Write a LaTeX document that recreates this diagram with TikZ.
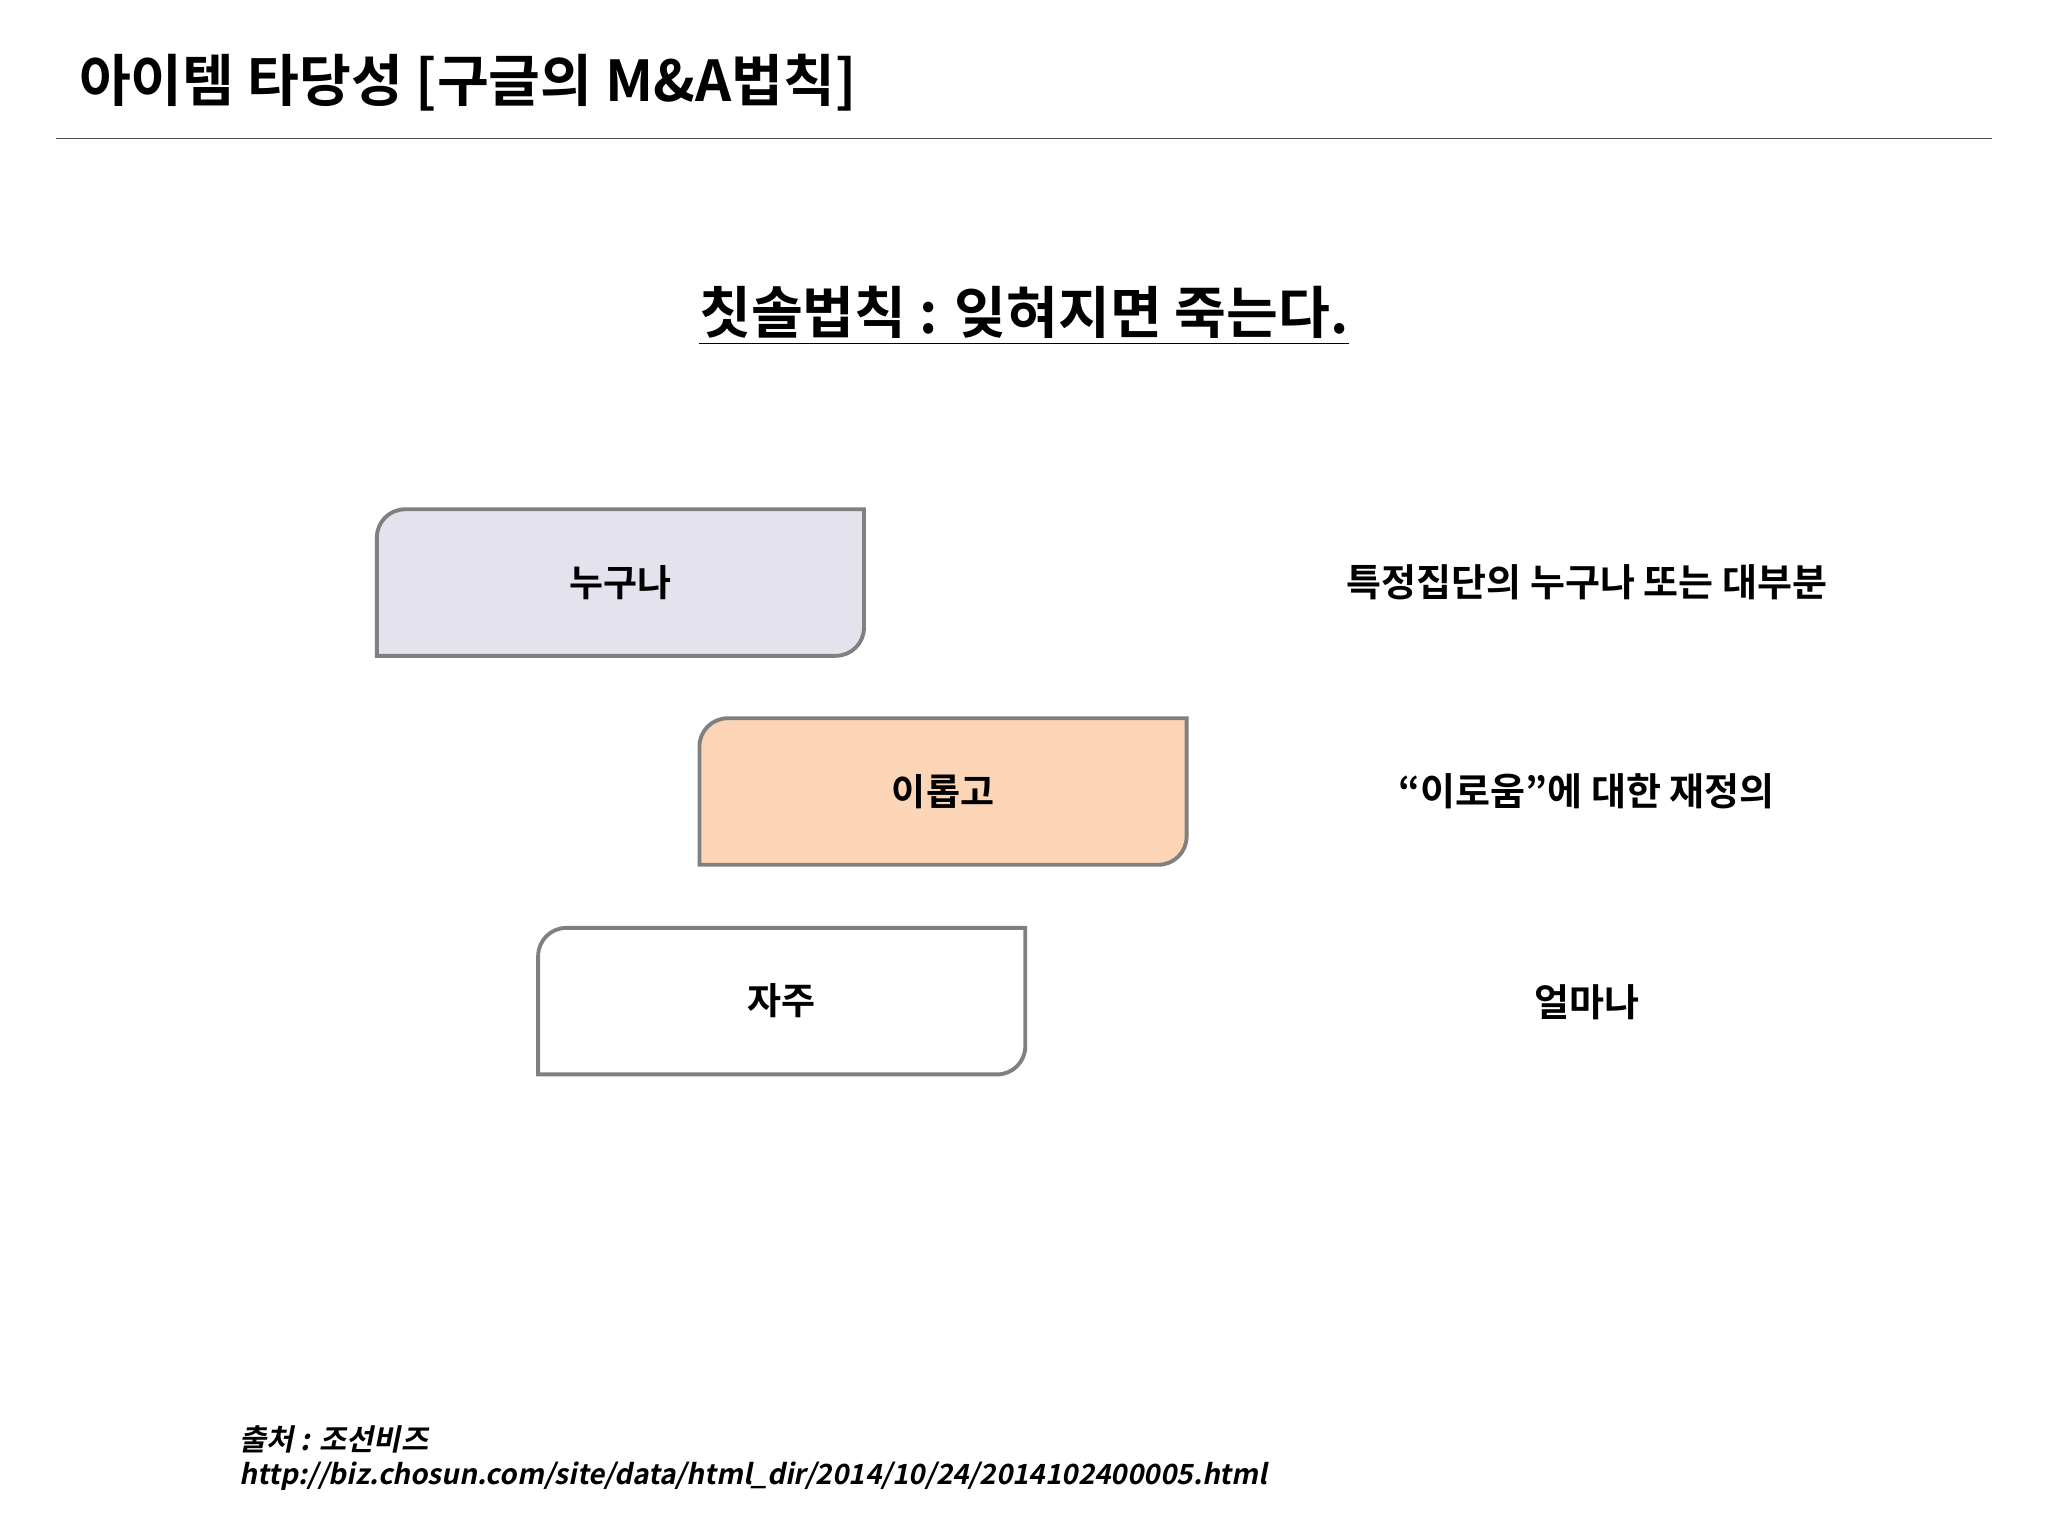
\documentclass[tikz,border=0pt]{standalone}
\usepackage{fontspec}
\setmainfont{Noto Sans CJK KR}[BoldFont={Noto Sans CJK KR Bold}]
\newfontfamily\slfont{Noto Sans CJK KR Bold}[FakeSlant=0.2]
\definecolor{bordergray}{HTML}{808080}
\definecolor{lav}{HTML}{E4E2EC}
\definecolor{peach}{HTML}{FBD5B5}
\tikzset{
  boxnode/.style={minimum width=137.9pt,minimum height=41.2pt,inner sep=0pt,font=\bfseries\fontsize{10.5}{13}\selectfont},
  boxline/.style={draw=bordergray,line width=1.1pt},
  sidetext/.style={font=\bfseries\fontsize{10.8}{13}\selectfont,anchor=center}
}
\newcommand{\myshape}[2]{%
 \filldraw[boxline,fill=#2] (#1.south west) -- ([yshift=-8pt]#1.north west) arc[start angle=180,end angle=90,radius=8pt] -- (#1.north east) -- ([yshift=8pt]#1.south east) arc[start angle=0,end angle=-90,radius=8pt] -- cycle;}
\begin{document}
\begin{tikzpicture}[x=0.3708pt,y=-0.3708pt]
\useasboundingbox (0,0) rectangle (1568,1176);
\node[anchor=west,inner sep=0pt,font=\bfseries\fontsize{16}{19}\selectfont] (title) at (60,63) {아이템 타당성 [구글의 M\&A법칙]};
\draw[line width=0.5pt,black!70] (43,106) coordinate (l1) -- (1525,106) coordinate (l2);
\node[font=\bfseries\fontsize{16}{19}\selectfont] (sub) at (784,242) {\underline{칫솔법칙 : 잊혀지면 죽는다.}};
\node[boxnode] (b1) at (475,446) {};
\node[boxnode] (b2) at (722,606) {};
\node[boxnode] (b3) at (598.5,766.5) {};
\myshape{b1}{lav}
\myshape{b2}{peach}
\myshape{b3}{white}
\node[boxnode] at (b1) {누구나};
\node[boxnode] at (b2) {이롭고};
\node[boxnode] at (b3) {자주};
\node[sidetext] (t1) at (1215,446) {특정집단의 누구나 또는 대부분};
\node[sidetext] (t2) at (1215,606) {“이로움”에 대한 재정의};
\node[sidetext] (t3) at (1215,767) {얼마나};
\node[anchor=west,inner sep=0pt,font=\slfont\fontsize{8.4}{10}\selectfont] (src) at (183,1102) {출처 : 조선비즈};
\node[anchor=west,inner sep=0pt,font=\slfont\fontsize{7.9}{10}\selectfont] (url) at (183,1130) {http://biz.chosun.com/site/data/html\_dir/2014/10/24/2014102400005.html};
\end{tikzpicture}
\end{document}
